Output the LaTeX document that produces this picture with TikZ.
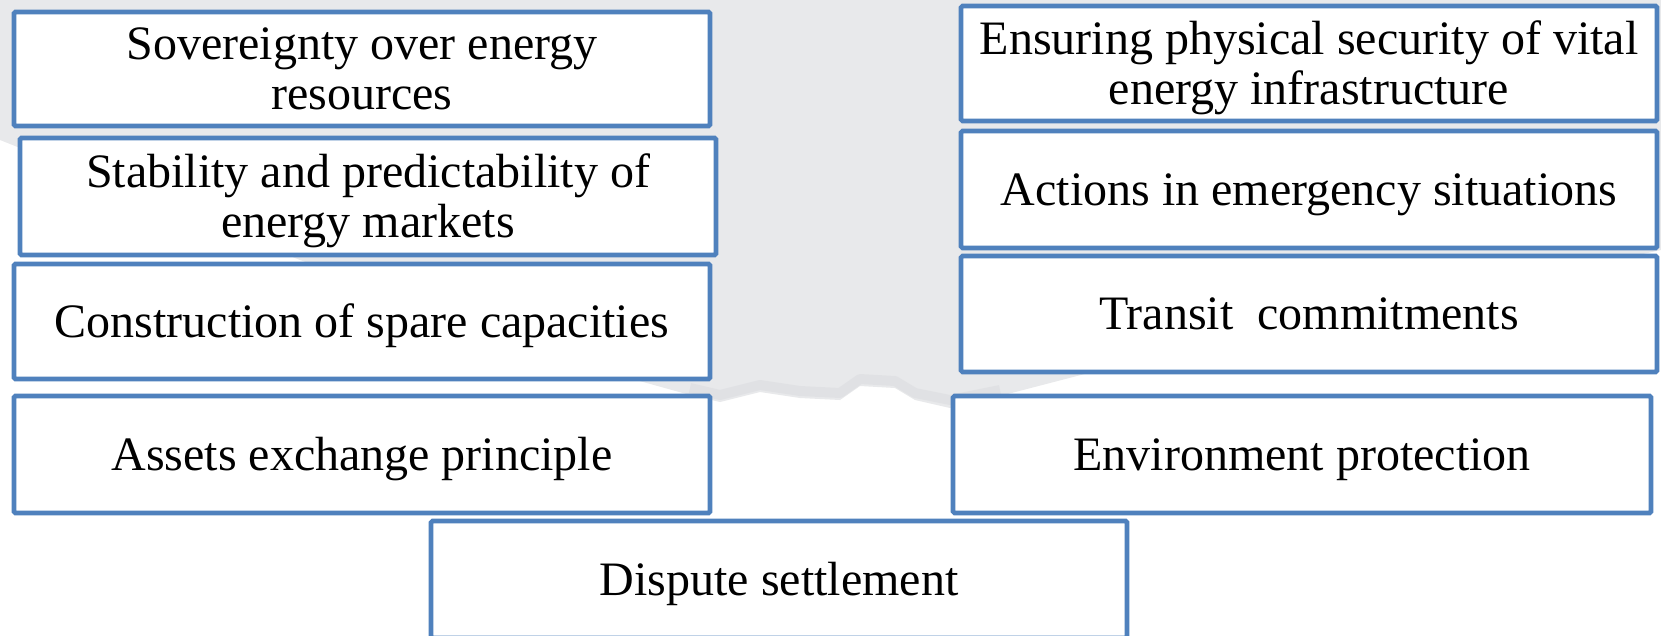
\documentclass[tikz,border=0pt]{standalone}
\usepackage{fontspec}
\setmainfont{Liberation Serif}
\definecolor{boxblue}{HTML}{4F81BD}
\definecolor{wmgray}{HTML}{E8E9EB}
\definecolor{wmdark}{HTML}{DCDDE0}
\begin{document}
\begin{tikzpicture}[x=1pt,y=-1pt,
  box/.style={draw=boxblue, line width=4.6pt, fill=white, rounded corners=1.5pt,
    minimum width=696pt, inner sep=0pt, font=\fontsize{48}{50}\selectfont, align=center},
  oneline/.style={text height=31.8pt, text depth=0pt},
  twoline/.style={text height=81.8pt, text depth=0pt}]
\useasboundingbox (0,0) rectangle (1661,636);
\clip (0,0) rectangle (1661,636);
\fill[white] (0,0) rectangle (1661,636);
% faint watermark in the background
\fill[wmgray] (0,0) -- (1661,0) -- (1661,250) -- (1300,330) -- (1100,370) -- (1000,396)
  -- (950,408) -- (915,400) -- (895,388) -- (860,386) -- (840,400) -- (800,398)
  -- (760,392) -- (720,402) -- (690,395) -- (600,370) -- (300,260) -- (0,140) -- cycle;
\draw[wmdark, line width=10pt, line join=round, opacity=0.6]
  (1000,390) -- (950,400) -- (915,393) -- (895,381) -- (860,379) -- (840,393)
  -- (800,391) -- (760,385) -- (720,395) -- (690,388);
% left column
\node[box, twoline, minimum height=114pt] (sov) at (362,69) {Sovereignty over energy\\resources};
\node[box, twoline, minimum height=117pt] (stab) at (368,196.5) {Stability and predictability of\\energy markets};
\node[box, oneline, minimum height=115pt] (cons) at (362,321.5) {Construction of spare capacities};
\node[box, oneline, minimum height=117pt] (asset) at (362,454.5) {Assets exchange principle};
% right column
\node[box, twoline, minimum height=115pt] (phys) at (1309,63.5) {Ensuring physical security of vital\\energy infrastructure};
\node[box, oneline, minimum height=117pt] (emerg) at (1309,189.5) {Actions in emergency situations};
\node[box, oneline, minimum height=116pt] (trans) at (1309,314) {Transit\ \ commitments};
\node[box, oneline, minimum height=117pt, minimum width=698pt] (env) at (1302,454.5) {Environment protection};
% bottom
\node[box, oneline, minimum height=117pt] (disp) at (779,579.5) {Dispute settlement};
\end{tikzpicture}
\end{document}
